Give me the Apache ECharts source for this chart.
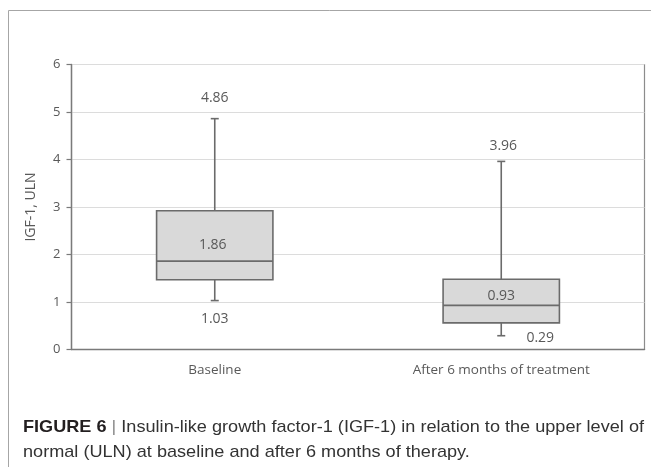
<!DOCTYPE html>
<html>
<head>
<meta charset="utf-8">
<script src="https://cdn.jsdelivr.net/npm/echarts@6/dist/echarts.min.js"></script>
<style>
  html, body { margin: 0; padding: 0; background: #fff; }
  #chart { width: 651px; height: 467px; }
</style>
</head>
<body>
<div id="chart"></div>
<script>
// IGF-1 (x ULN) distribution, five-number summary per time point
const categories = ['Baseline', 'After 6 months of treatment'];
const minValues = [1.03, 0.29];
const q1Values = [1.47, 0.56];
const medianValues = [1.86, 0.93];
const q3Values = [2.92, 1.48];
const maxValues = [4.86, 3.96];
const yTicks = [0, 1, 2, 3, 4, 5, 6];

// label nudges in px (dx, dy) for max / median / min annotations
const maxLabelShift = [[0, -21], [2, -15]];
const medianLabelShift = [[-2, -16], [0, -9]];
const minLabelShift = [[0, 18], [39, 2]];

const captionBold = 'FIGURE 6';
const captionLine1 = 'Insulin-like growth factor-1 (IGF-1) in relation to the upper level of';
const captionLine2 = 'normal (ULN) at baseline and after 6 months of therapy.';

const boxData = categories.map((c, i) => [i, minValues[i], q1Values[i], medianValues[i], q3Values[i], maxValues[i]]);

const chart = echarts.init(document.getElementById('chart'), null, { renderer: 'canvas' });

const LINE = '#6b6b6b';
const TEXT = '#595959';
const LABEL_FONT = '"Open Sans", sans-serif';

function renderBox(params, api) {
  const idx = api.value(0);
  const xc = api.coord([idx, 0])[0];
  const band = api.size([1, 0])[0];
  const half = band * 0.203;
  const yMin = api.coord([idx, api.value(1)])[1];
  const yQ1 = api.coord([idx, api.value(2)])[1];
  const yMed = api.coord([idx, api.value(3)])[1];
  const yQ3 = api.coord([idx, api.value(4)])[1];
  const yMax = api.coord([idx, api.value(5)])[1];
  const cap = 4;
  const lineStyle = { stroke: LINE, lineWidth: 1.6, fill: null };
  const fmt = v => v.toFixed(2);
  const txt = (v, x, y) => ({
    type: 'text',
    style: { text: fmt(v), x: x, y: y, align: 'center', verticalAlign: 'middle',
             fill: TEXT, font: '14px ' + LABEL_FONT }
  });
  return {
    type: 'group',
    children: [
      { type: 'line', shape: { x1: xc, y1: yMax, x2: xc, y2: yQ3 }, style: lineStyle },
      { type: 'line', shape: { x1: xc, y1: yQ1, x2: xc, y2: yMin }, style: lineStyle },
      { type: 'line', shape: { x1: xc - cap, y1: yMax, x2: xc + cap, y2: yMax }, style: lineStyle },
      { type: 'line', shape: { x1: xc - cap, y1: yMin, x2: xc + cap, y2: yMin }, style: lineStyle },
      { type: 'rect', shape: { x: xc - half, y: yQ3, width: half * 2, height: yQ1 - yQ3 },
        style: { fill: '#d9d9d9', stroke: LINE, lineWidth: 1.6 } },
      { type: 'line', shape: { x1: xc - half, y1: yMed, x2: xc + half, y2: yMed }, style: lineStyle },
      txt(api.value(5), xc + maxLabelShift[idx][0], yMax + maxLabelShift[idx][1]),
      txt(api.value(3), xc + medianLabelShift[idx][0], yMed + medianLabelShift[idx][1]),
      txt(api.value(1), xc + minLabelShift[idx][0], yMin + minLabelShift[idx][1])
    ]
  };
}

// caption text, squeezed horizontally to the condensed width of the figure legend
const CAP_FONT_FAMILY = '"Liberation Sans", Arial, sans-serif';
const CAP_SIZE = 17;
const measureCtx = document.createElement('canvas').getContext('2d');
function textWidth(t, weight) {
  measureCtx.font = (weight || 'normal') + ' ' + CAP_SIZE + 'px ' + CAP_FONT_FAMILY;
  return measureCtx.measureText(t).width;
}
const boldW = textWidth(captionBold, 'bold');
const sepText = ' | ';
const sepW = textWidth(sepText);
const line1W = textWidth(captionLine1);
const naturalW = boldW + sepW + line1W;
const targetW = 621;
const sx = targetW / naturalW;
const capX = 23;
const capY1 = 427;
const capY2 = 452;

const option = {
  animation: false,
  backgroundColor: '#ffffff',
  grid: {
    left: 71.5, top: 64.5, right: 6.5, bottom: 117.5,
    show: true, borderColor: '#8c8c8c', borderWidth: 1.2, backgroundColor: 'transparent'
  },
  xAxis: {
    type: 'category',
    data: categories,
    boundaryGap: true,
    axisLine: { show: true, lineStyle: { color: '#7a7a7a', width: 1.4 } },
    axisTick: { show: false },
    axisLabel: { color: TEXT, fontFamily: LABEL_FONT, fontSize: 13.5, margin: 14 },
    splitLine: { show: false }
  },
  yAxis: {
    type: 'value',
    min: yTicks[0],
    max: yTicks[yTicks.length - 1],
    interval: 1,
    name: 'IGF-1, ULN',
    nameLocation: 'middle',
    nameRotate: 90,
    nameGap: 33,
    nameTextStyle: { color: TEXT, fontFamily: LABEL_FONT, fontSize: 14 },
    axisLine: { show: true, lineStyle: { color: '#7a7a7a', width: 1.4 } },
    axisTick: { show: true, length: 5, lineStyle: { color: '#7a7a7a', width: 1.2 } },
    axisLabel: { color: TEXT, fontFamily: LABEL_FONT, fontSize: 13, margin: 11 },
    splitLine: { show: true, lineStyle: { color: '#dcdcdc', width: 1.2 } }
  },
  series: [{
    type: 'custom',
    renderItem: renderBox,
    data: boxData,
    encode: { x: 0, y: [1, 2, 3, 4, 5] },
    z: 5
  }],
  graphic: [
    // outer frame: left and top rules
    { type: 'line', shape: { x1: 8.5, y1: 10.5, x2: 651, y2: 10.5 }, style: { stroke: '#a6a6a6', lineWidth: 1 } },
    { type: 'line', shape: { x1: 8.5, y1: 10.5, x2: 8.5, y2: 467 }, style: { stroke: '#a6a6a6', lineWidth: 1 } },
    {
      type: 'group', x: capX, y: capY1, scaleX: sx, scaleY: 1,
      children: [
        { type: 'text', x: 0, y: 0, style: { text: captionBold, font: 'bold ' + CAP_SIZE + 'px ' + CAP_FONT_FAMILY, fill: '#231f20', verticalAlign: 'middle' } },
        { type: 'text', x: boldW, y: 0, style: { text: sepText, font: CAP_SIZE + 'px ' + CAP_FONT_FAMILY, fill: '#8a8a8a', verticalAlign: 'middle' } },
        { type: 'text', x: boldW + sepW, y: 0, style: { text: captionLine1, font: CAP_SIZE + 'px ' + CAP_FONT_FAMILY, fill: '#333333', verticalAlign: 'middle' } }
      ]
    },
    {
      type: 'group', x: capX, y: capY2, scaleX: sx, scaleY: 1,
      children: [
        { type: 'text', x: 0, y: 0, style: { text: captionLine2, font: CAP_SIZE + 'px ' + CAP_FONT_FAMILY, fill: '#333333', verticalAlign: 'middle' } }
      ]
    }
  ]
};

chart.setOption(option);
</script>
</body>
</html>
